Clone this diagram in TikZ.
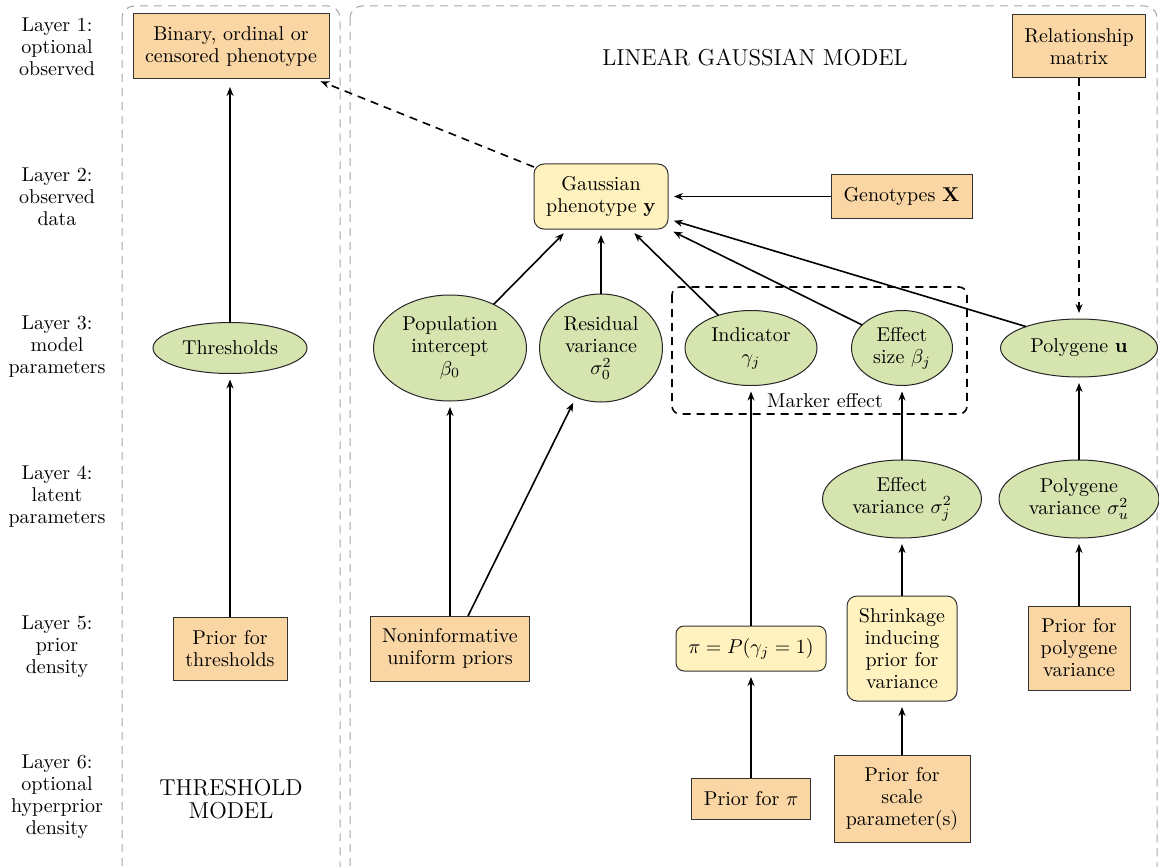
\documentclass[tikz,border=0pt]{standalone}
\usetikzlibrary{arrows.meta,shapes.geometric,calc}
\definecolor{orangefill}{RGB}{250,214,164}
\definecolor{greenfill}{RGB}{214,228,176}
\definecolor{yellowfill}{RGB}{255,242,190}
\begin{document}
\begin{tikzpicture}[x=0.5pt,y=-0.5pt,
  every node/.style={font=\fontsize{10}{11}\selectfont, align=center, inner sep=0pt, outer sep=0pt},
  obox/.style={draw=black!80, line width=0.5pt, fill=orangefill, rectangle},
  ybox/.style={draw=black!80, line width=0.5pt, fill=yellowfill, rectangle, rounded corners=5pt},
  gell/.style={draw=black!85, line width=0.5pt, fill=greenfill, ellipse},
  arr/.style={-{Stealth[length=4.5pt,width=3.5pt]}, line width=0.8pt, shorten >=3pt},
  darr/.style={arr, dash pattern=on 4pt off 3pt},
  panel/.style={draw=black!35, line width=0.5pt, dash pattern=on 4pt off 3pt, rounded corners=6pt},
  big/.style={font=\fontsize{11.5}{11.5}\selectfont}]
\useasboundingbox (0,0) rectangle (1159,866);
\begin{scope}
  \clip (0,0) rectangle (1159,866);
  \draw[panel] (122,6) rectangle (340,900);
  \draw[panel] (350,6) rectangle (1157,900);
\end{scope}

% layer labels
\node (l1) at (57,47) {Layer 1:\\optional\\observed};
\node (l2) at (57,197) {Layer 2:\\observed\\data};
\node (l3) at (57,347) {Layer 3:\\model\\parameters};
\node (l4) at (57,497) {Layer 4:\\latent\\parameters};
\node (l5) at (57,647) {Layer 5:\\prior\\density};
\node (l6) at (57,797) {Layer 6:\\optional\\hyperprior\\density};

% threshold model
\node[obox, minimum width=98pt, minimum height=32.5pt] (bin) at (231,46.5) {Binary, ordinal or\\censored phenotype};
\node[gell, minimum width=77pt, minimum height=25.5pt] (thr) at (230,348) {Thresholds};
\node[obox, minimum width=57pt, minimum height=31.5pt] (pthr) at (230,648.5) {Prior for\\thresholds};
\node[big] (tm) at (231,799) {THRESHOLD\\MODEL};

% linear gaussian model
\node[big] (lgm) at (755,58) {LINEAR GAUSSIAN MODEL};
\node[ybox, minimum width=67pt, minimum height=32.5pt] (gauss) at (601,196.5) {Gaussian\\phenotype $\mathbf{y}$};
\node[obox, minimum width=70.5pt, minimum height=22pt] (geno) at (901.5,196.5) {Genotypes $\mathbf{X}$};
\node[obox, minimum width=66.5pt, minimum height=31.5pt] (rel) at (1079,46.5) {Relationship\\matrix};

\node[gell, minimum width=76.5pt, minimum height=53pt] (pop) at (450,348) {Population\\intercept\\$\beta_0$};
\node[gell, minimum width=61.5pt, minimum height=54pt] (res) at (601,348) {Residual\\variance\\$\sigma_0^2$};
\node[gell, minimum width=66pt, minimum height=37.5pt] (ind) at (751,348) {Indicator\\$\gamma_j$};
\node[gell, minimum width=50.5pt, minimum height=37.5pt] (eff) at (902,348) {Effect\\size $\beta_j$};
\node[gell, minimum width=78.5pt, minimum height=29pt] (poly) at (1079,348) {Polygene $\mathbf{u}$};
\draw[line width=0.8pt, dash pattern=on 4pt off 3pt, rounded corners=4pt] (672,287) rectangle (967,414);
\node (mark) at (825,401) {Marker effect};

\node[gell, minimum width=79.5pt, minimum height=39pt] (effvar) at (902,499) {Effect\\variance $\sigma_j^2$};
\node[gell, minimum width=80pt, minimum height=39pt] (polyvar) at (1079,499) {Polygene\\variance $\sigma_u^2$};

\node[obox, minimum width=79.5pt, minimum height=32.5pt] (nonin) at (450,648.5) {Noninformative\\uniform priors};
\node[ybox, rounded corners=4pt, minimum width=75pt, minimum height=22.5pt] (pibox) at (751,648.5) {$\pi = P(\gamma_j = 1)$};
\node[ybox, minimum width=55pt, minimum height=52.5pt] (shrink) at (902,648.5) {Shrinkage\\inducing\\prior for\\variance};
\node[obox, minimum width=51pt, minimum height=42pt] (ppv) at (1079,648) {Prior for\\polygene\\variance};
\node[obox, minimum width=59.5pt, minimum height=20.5pt] (ppi) at (751,798.5) {Prior for $\pi$};
\node[obox, minimum width=68pt, minimum height=43.5pt] (pscale) at (902,798.5) {Prior for\\scale\\parameter(s)};

% connectors
\draw[arr, shorten >=4pt] (thr.north) -- (thr.north |- bin.south);
\draw[arr] (pthr.north) -- (thr.south);
\draw[darr] ([yshift=-1.5pt]gauss.north west) -- ([xshift=-7pt]bin.south east);
\draw[arr] (geno.west) -- (gauss.east);
\draw[darr] (rel.south) -- (poly.north);
\draw[arr] (pop.45) -- ([xshift=-16.5pt]gauss.south);
\draw[arr] (res.north) -- (gauss.south);
\draw[arr] (ind.135) -- ([xshift=14.5pt]gauss.south);
\draw[arr] (eff.150) -- (gauss.south east);
\draw[arr] (poly.158) -- ([yshift=-11.25pt]gauss.east);
\draw[arr] (nonin.north) -- (pop.south);
\draw[arr] ([xshift=9pt]nonin.north) -- (res.243);
\draw[arr] (pibox.north) -- (ind.south);
\draw[arr] (ppi.north) -- (pibox.south);
\draw[arr] (effvar.north) -- (eff.south);
\draw[arr] (shrink.north) -- (effvar.south);
\draw[arr] (pscale.north) -- (shrink.south);
\draw[arr] (polyvar.north) -- (poly.south);
\draw[arr] (ppv.north) -- (polyvar.south);
\end{tikzpicture}
\end{document}
